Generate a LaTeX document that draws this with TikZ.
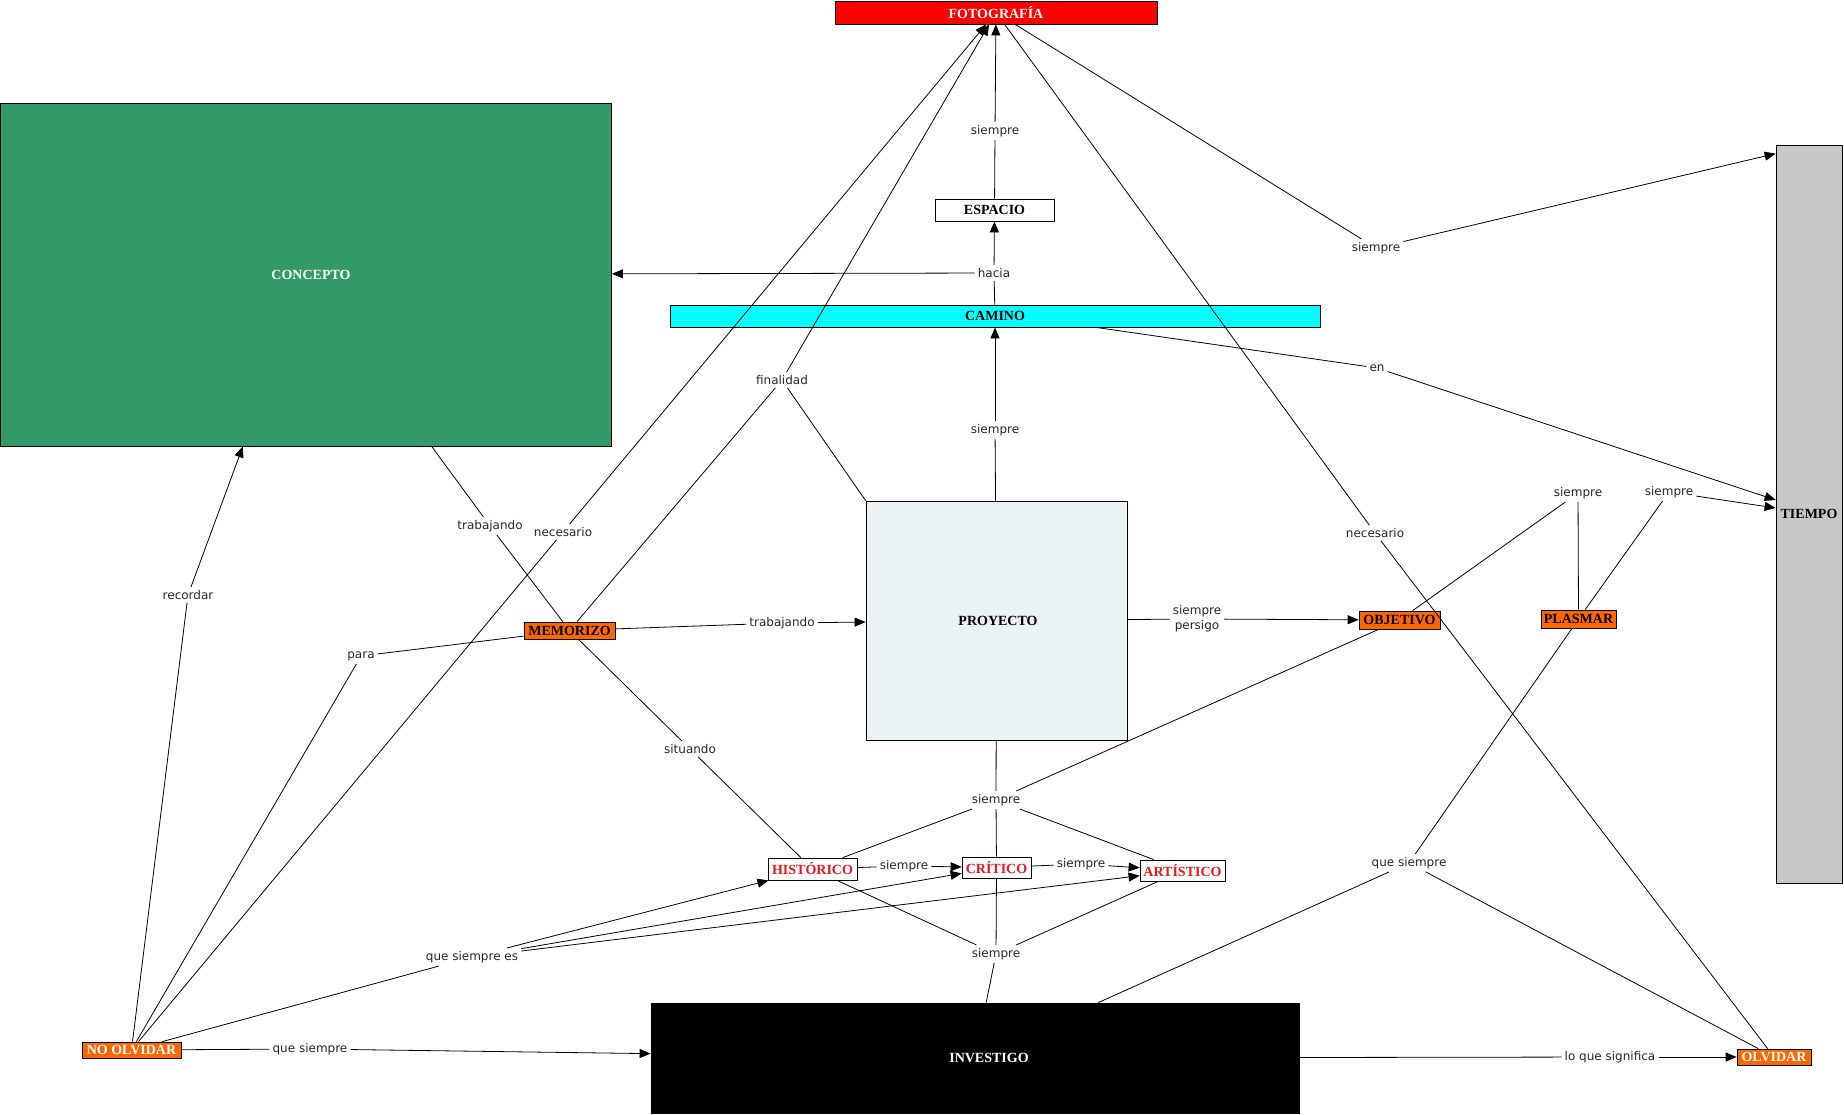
\documentclass[tikz,border=0pt]{standalone}
\usepackage{fontspec}
\setmainfont{Liberation Serif}
\newfontfamily\lblfont{DejaVu Sans}
\usetikzlibrary{arrows.meta,calc}
\definecolor{cgreen}{RGB}{51,153,102}
\definecolor{ccyan}{RGB}{0,255,255}
\definecolor{cgrey}{RGB}{200,200,200}
\definecolor{cpale}{RGB}{235,242,244}
\definecolor{corange}{RGB}{255,102,0}
\definecolor{cred}{RGB}{228,24,30}
\begin{document}
\begin{tikzpicture}[x=1pt,y=-1pt,
  concept/.style={draw=black, line width=0.8pt, inner sep=0pt, anchor=center,
    font=\bfseries\fontsize{14}{14}\selectfont},
  orange/.style={concept, fill=corange},
  redtxt/.style={concept, fill=white, text=cred},
  lbl/.style={font=\lblfont\fontsize{12}{15}\selectfont, inner sep=3pt, text=black!85, align=center},
  conn/.style={line width=0.8pt},
  arr/.style={conn, -{Triangle[length=11pt,width=9pt]}}]
\useasboundingbox (0,0) rectangle (1844,1115);

% concepts
\node[concept, fill=red, text=white, minimum width=322pt, minimum height=23pt] (foto) at (996,12.5) {FOTOGRAFÍA};
\node[concept, fill=cgreen, text=white, minimum width=611pt, minimum height=343pt] (concepto) at (306,274.5) {\hspace*{10pt}CONCEPTO};
\node[concept, fill=white, minimum width=119pt, minimum height=22pt] (espacio) at (994.5,210) {ESPACIO};
\node[concept, fill=ccyan, minimum width=650pt, minimum height=22pt] (camino) at (995,316) {CAMINO};
\node[concept, fill=cgrey, minimum width=66pt, minimum height=738pt] (tiempo) at (1809,514) {TIEMPO};
\node[concept, fill=cpale, minimum width=261pt, minimum height=239pt] (proyecto) at (996.5,620.5) {\hspace*{3pt}PROYECTO};
\node[orange, minimum width=91pt, minimum height=17pt] (memorizo) at (569.5,630.5) {MEMORIZO};
\node[orange, minimum width=81pt, minimum height=18pt] (objetivo) at (1399.5,620) {OBJETIVO};
\node[orange, minimum width=75pt, minimum height=18pt] (plasmar) at (1578.5,619) {PLASMAR};
\node[redtxt, minimum width=89pt, minimum height=22pt] (historico) at (812.5,869) {HISTÓRICO};
\node[redtxt, minimum width=69pt, minimum height=21pt] (critico) at (996.5,867.5) {CRÍTICO};
\node[redtxt, minimum width=85pt, minimum height=21pt] (artistico) at (1182.5,870.5) {ARTÍSTICO};
\node[concept, fill=black, text=white, minimum width=648pt, minimum height=110pt] (investigo) at (975,1058) {\hspace*{28pt}INVESTIGO};
\node[orange, text=white, minimum width=99pt, minimum height=16pt] (noolvidar) at (131.5,1050) {NO OLVIDAR};
\node[orange, text=white, minimum width=74pt, minimum height=16pt] (olvidar) at (1774,1057) {OLVIDAR};

% linking phrases
\node[lbl] (l1) at (995,131) {siempre};
\node[lbl] (l2) at (994,273) {hacia};
\node[lbl] (l3) at (1376,248) {siempre};
\node[lbl] (l4) at (1377,368) {en};
\node[lbl] (l5) at (782,380) {finalidad};
\node[lbl] (l6) at (995,430) {siempre};
\node[lbl] (l7) at (490,526) {trabajando};
\node[lbl] (l8) at (563,532) {necesario};
\node[lbl] (l9) at (1375,533) {necesario};
\node[lbl] (l10) at (188,595) {recordar};
\node[lbl] (l11) at (1578,493) {siempre};
\node[lbl] (l12) at (1669,492) {siempre};
\node[lbl] (l13) at (361,656) {para};
\node[lbl] (l14) at (782,623) {trabajando};
\node[lbl] (l15) at (1197,619) {siempre\\persigo};
\node[lbl] (l16) at (690,749) {situando};
\node[lbl] (l17) at (996,800) {siempre};
\node[lbl] (l18) at (904,866) {siempre};
\node[lbl] (l19) at (1081,864) {siempre};
\node[lbl] (l20) at (1409,863) {que siempre};
\node[lbl] (l21) at (472,957) {que siempre es};
\node[lbl] (l22) at (996,954) {siempre};
\node[lbl] (l23) at (310,1049) {que siempre};
\node[lbl] (l24) at (1610,1057) {lo que significa};

% connectors
\draw[conn] (espacio) -- (l1); \draw[arr] (l1) -- (foto);
\draw[conn] (camino) -- (l2); \draw[arr] (l2) -- (espacio); \draw[arr] (l2) -- (concepto);
\draw[conn] (foto) -- (l3); \draw[arr] (l3) -- ($(tiempo.north west)+(0,9)$);
\draw[conn] ($(camino.south)+(101,0)$) -- (l4); \draw[arr] (l4) -- ($(tiempo.west)+(0,-14)$);
\draw[conn] (proyecto.north west) -- (l5); \draw[conn] (memorizo) -- (l5); \draw[arr] (l5) -- (foto);
\draw[conn] (proyecto) -- (l6); \draw[arr] (l6) -- (camino);
\draw[conn] (concepto) -- (l7); \draw[conn] (l7) -- (memorizo);
\draw[conn] (noolvidar) -- (l8); \draw[arr] (l8) -- (foto);
\draw[conn] (foto) -- (l9); \draw[conn] (l9) -- (olvidar);
\draw[conn] (noolvidar) -- (l10); \draw[arr] (l10) -- (concepto);
\draw[conn] (objetivo) -- (l11); \draw[conn] (l11) -- (plasmar);
\draw[conn] (plasmar) -- (l12); \draw[arr] (l12) -- ($(tiempo.west)+(0,-6)$);
\draw[conn] (noolvidar) -- (l13); \draw[conn] (l13) -- (memorizo);
\draw[conn] (memorizo) -- (l14); \draw[arr] (l14) -- (proyecto);
\draw[conn] (proyecto) -- (l15); \draw[arr] (l15) -- (objetivo);
\draw[conn] (memorizo) -- (l16); \draw[conn] (l16) -- (historico);
\draw[conn] (proyecto) -- (l17); \draw[conn] (objetivo) -- (l17);
\draw[conn] (l17) -- (historico); \draw[conn] (l17) -- (critico); \draw[conn] (l17) -- (artistico);
\draw[conn] (historico) -- (l18); \draw[arr] (l18) -- (critico);
\draw[conn] (critico) -- (l19); \draw[arr] (l19) -- (artistico);
\draw[conn] (investigo) -- (l20); \draw[conn] (plasmar) -- (l20); \draw[conn] (l20) -- (olvidar);
\draw[conn] (noolvidar) -- (l21);
\draw[arr] (l21) -- (historico); \draw[arr] (l21) -- (critico); \draw[arr] (l21) -- (artistico);
\draw[conn] (historico) -- (l22); \draw[conn] (critico) -- (l22); \draw[conn] (artistico) -- (l22);
\draw[conn] (l22) -- (investigo);
\draw[conn] (noolvidar) -- (l23); \draw[arr] (l23) -- (investigo);
\draw[conn] (investigo) -- (l24); \draw[arr] (l24) -- (olvidar);
\end{tikzpicture}
\end{document}
